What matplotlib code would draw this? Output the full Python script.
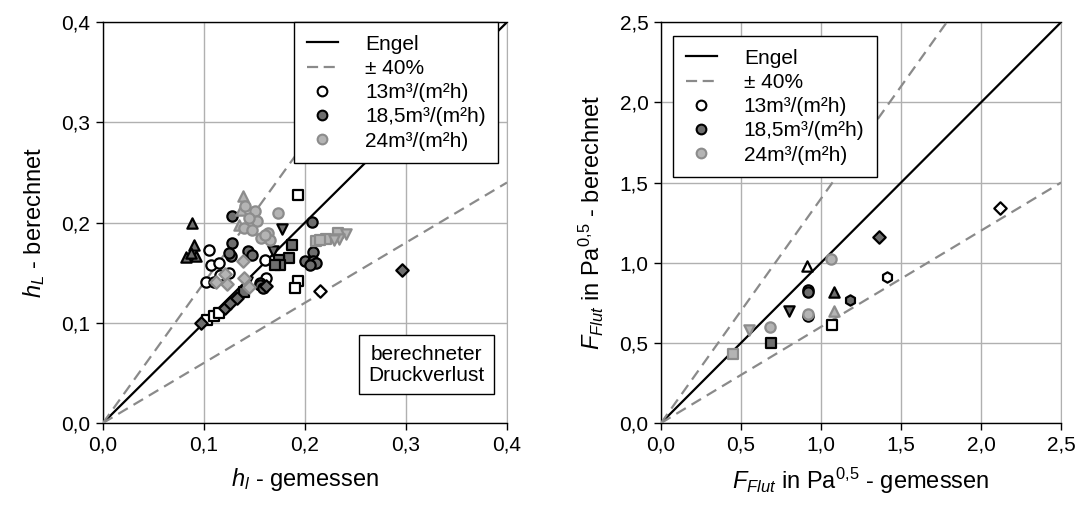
import matplotlib
matplotlib.use("Agg")
import matplotlib.pyplot as plt
from matplotlib.lines import Line2D
from matplotlib.ticker import FuncFormatter
import numpy as np

plt.rcParams["font.family"] = ["Liberation Sans", "DejaVu Sans"]
plt.rcParams["mathtext.fontset"] = "custom"
plt.rcParams["mathtext.rm"] = "Liberation Sans"
plt.rcParams["mathtext.it"] = "Liberation Sans:italic"

# --- linkes Diagramm: h_L gemessen / berechnet -------------------------
# 13 m3/(m2h)
l13_circ_x = [0.105, 0.107, 0.115, 0.102, 0.110, 0.116, 0.160, 0.161, 0.155, 0.158, 0.125]
l13_circ_y = [0.173, 0.158, 0.160, 0.141, 0.141, 0.148, 0.163, 0.145, 0.140, 0.136, 0.150]
l13_sq_x = [0.193, 0.193, 0.190, 0.103, 0.110, 0.115]
l13_sq_y = [0.228, 0.142, 0.135, 0.103, 0.107, 0.110]
l13_dia_x = [0.215]
l13_dia_y = [0.132]
l13_tdn_x = [0.143]
l13_tdn_y = [0.141]
# 18,5 m3/(m2h)
l18_tup_x = [0.0885, 0.090, 0.082, 0.092, 0.087]
l18_tup_y = [0.200, 0.178, 0.166, 0.167, 0.170]
l18_circ_x = [0.128, 0.128, 0.1265, 0.125, 0.1437, 0.148, 0.207, 0.208, 0.200, 0.208, 0.211, 0.205, 0.155, 0.158]
l18_circ_y = [0.207, 0.180, 0.167, 0.170, 0.172, 0.168, 0.201, 0.171, 0.162, 0.162, 0.160, 0.158, 0.138, 0.135]
l18_tdn_x = [0.177, 0.168]
l18_tdn_y = [0.194, 0.172]
l18_sq_x = [0.187, 0.184, 0.174, 0.175, 0.170, 0.140]
l18_sq_y = [0.178, 0.165, 0.163, 0.158, 0.158, 0.131]
l18_dia_x = [0.296, 0.097, 0.121, 0.126, 0.133, 0.161]
l18_dia_y = [0.153, 0.100, 0.115, 0.120, 0.125, 0.137]
# 24 m3/(m2h)
l24_tup_x = [0.139, 0.137, 0.135]
l24_tup_y = [0.227, 0.213, 0.198]
l24_circ_x = [0.141, 0.151, 0.153, 0.173, 0.163, 0.156, 0.165, 0.145, 0.140, 0.148, 0.160]
l24_circ_y = [0.217, 0.212, 0.202, 0.210, 0.190, 0.185, 0.183, 0.205, 0.195, 0.193, 0.188]
l24_sq_x = [0.211, 0.221, 0.2325, 0.215]
l24_sq_y = [0.182, 0.184, 0.190, 0.183]
l24_tdn_x = [0.241, 0.234, 0.229]
l24_tdn_y = [0.189, 0.184, 0.183]
l24_dia_x = [0.139, 0.112, 0.121, 0.123, 0.145, 0.140]
l24_dia_y = [0.162, 0.141, 0.149, 0.139, 0.136, 0.145]

# --- rechtes Diagramm: F_Flut gemessen / berechnet ---------------------
r13_circ_x = [0.92, 0.92]
r13_circ_y = [0.83, 0.67]
r13_tup_x = [0.91]
r13_tup_y = [0.98]
r13_sq_x = [1.07]
r13_sq_y = [0.61]
r13_hex_x = [1.41]
r13_hex_y = [0.91]
r13_dia_x = [2.12]
r13_dia_y = [1.34]
r18_sq_x = [0.69]
r18_sq_y = [0.50]
r18_tdn_x = [0.80]
r18_tdn_y = [0.70]
r18_circ_x = [0.92]
r18_circ_y = [0.82]
r18_tup_x = [1.08]
r18_tup_y = [0.82]
r18_hex_x = [1.18]
r18_hex_y = [0.77]
r18_dia_x = [1.36]
r18_dia_y = [1.16]
r24_sq_x = [0.45]
r24_sq_y = [0.43]
r24_tdn_x = [0.55]
r24_tdn_y = [0.58]
r24_circ_x = [0.68, 0.92, 1.06]
r24_circ_y = [0.60, 0.68, 1.02]
r24_tup_x = [1.08]
r24_tup_y = [0.70]

legend_labels = ["Engel", "± 40%", "13m³/(m²h)", "18,5m³/(m²h)", "24m³/(m²h)"]

STYLE = {
    "13": dict(facecolor="white", edgecolor="black"),
    "18": dict(facecolor="#6e6e6e", edgecolor="black"),
    "24": dict(facecolor="#b4b4b4", edgecolor="#8c8c8c"),
}
GRID = "#b0b0b0"
DASH = "#8a8a8a"
FS = 15


def komma(v, pos):
    return f"{v:.1f}".replace(".", ",")


def setup_axes(ax, lim, step):
    ax.set_xlim(0, lim)
    ax.set_ylim(0, lim)
    ticks = np.arange(0, lim + step / 2, step)
    ax.set_xticks(ticks)
    ax.set_yticks(ticks)
    ax.xaxis.set_major_formatter(FuncFormatter(komma))
    ax.yaxis.set_major_formatter(FuncFormatter(komma))
    ax.grid(True, color=GRID, linewidth=1.0)
    ax.set_axisbelow(True)
    ax.tick_params(direction="out", length=5, width=1, labelsize=FS, pad=4)
    for s in ("left", "bottom", "top"):
        ax.spines[s].set_color("black")
        ax.spines[s].set_linewidth(1.0)
    ax.spines["right"].set_color(GRID)
    # Engel-Linie und +-40 %
    xs = np.array([0, lim])
    ax.plot(xs, xs, color="black", lw=1.6, zorder=3)
    ax.plot(xs, 1.4 * xs, color=DASH, lw=1.6, ls=(0, (5, 3)), zorder=3)
    ax.plot(xs, 0.6 * xs, color=DASH, lw=1.6, ls=(0, (5, 3)), zorder=3)


def punkte(ax, x, y, marker, key, size=55):
    st = STYLE[key]
    ax.scatter(x, y, s=size, marker=marker, facecolor=st["facecolor"],
               edgecolor=st["edgecolor"], linewidths=1.6, zorder=4, clip_on=False)


def legende(ax, anchor):
    handles = [
        Line2D([], [], color="black", lw=1.6),
        Line2D([], [], color=DASH, lw=1.6, ls=(0, (5, 2.5))),
    ]
    for key in ("13", "18", "24"):
        st = STYLE[key]
        handles.append(Line2D([], [], ls="none", marker="o", markersize=7,
                              markerfacecolor=st["facecolor"],
                              markeredgecolor=st["edgecolor"], markeredgewidth=1.5))
    leg = ax.legend(handles, legend_labels, loc="upper left", bbox_to_anchor=anchor,
                    borderaxespad=0, fontsize=FS, frameon=True, fancybox=False,
                    framealpha=1, edgecolor="black", handlelength=1.5,
                    labelspacing=0.25, borderpad=0.6, handletextpad=1.3)
    leg.get_frame().set_linewidth(1.0)
    leg.set_zorder(10)


fig = plt.figure(figsize=(10.78, 5.08), dpi=100)
ax1 = fig.add_axes([0.0955, 0.1673, 0.3748, 0.789])
ax2 = fig.add_axes([0.6132, 0.1673, 0.3711, 0.789])

# linkes Diagramm
setup_axes(ax1, 0.4, 0.1)
punkte(ax1, l13_circ_x, l13_circ_y, "o", "13")
punkte(ax1, l13_sq_x, l13_sq_y, "s", "13", 50)
punkte(ax1, l13_dia_x, l13_dia_y, "D", "13", 40)
punkte(ax1, l13_tdn_x, l13_tdn_y, "v", "13")
punkte(ax1, l18_tup_x, l18_tup_y, "^", "18")
punkte(ax1, l18_circ_x, l18_circ_y, "o", "18")
punkte(ax1, l18_tdn_x, l18_tdn_y, "v", "18")
punkte(ax1, l18_sq_x, l18_sq_y, "s", "18", 50)
punkte(ax1, l18_dia_x, l18_dia_y, "D", "18", 40)
punkte(ax1, l24_tup_x, l24_tup_y, "^", "24")
punkte(ax1, l24_circ_x, l24_circ_y, "o", "24")
punkte(ax1, l24_sq_x, l24_sq_y, "s", "24", 50)
punkte(ax1, l24_tdn_x, l24_tdn_y, "v", "24")
punkte(ax1, l24_dia_x, l24_dia_y, "D", "24", 40)
ax1.set_xlabel("$h_l$ - gemessen", fontsize=17, labelpad=8)
ax1.set_ylabel("$h_L$ - berechnet", fontsize=17, labelpad=10)
legende(ax1, (0.473, 1.0))
ax1.text(0.8, 0.145, "berechneter\nDruckverlust", transform=ax1.transAxes,
         ha="center", va="center", fontsize=FS, zorder=10, linespacing=1.15,
         bbox=dict(boxstyle="square,pad=0.45", facecolor="white",
                   edgecolor="black", linewidth=1.0))

# rechtes Diagramm
setup_axes(ax2, 2.5, 0.5)
punkte(ax2, r13_circ_x, r13_circ_y, "o", "13")
punkte(ax2, r13_tup_x, r13_tup_y, "^", "13")
punkte(ax2, r13_sq_x, r13_sq_y, "s", "13", 50)
punkte(ax2, r13_hex_x, r13_hex_y, "h", "13")
punkte(ax2, r13_dia_x, r13_dia_y, "D", "13", 40)
punkte(ax2, r18_sq_x, r18_sq_y, "s", "18", 50)
punkte(ax2, r18_tdn_x, r18_tdn_y, "v", "18")
punkte(ax2, r18_circ_x, r18_circ_y, "o", "18")
punkte(ax2, r18_tup_x, r18_tup_y, "^", "18")
punkte(ax2, r18_hex_x, r18_hex_y, "h", "18")
punkte(ax2, r18_dia_x, r18_dia_y, "D", "18", 40)
punkte(ax2, r24_sq_x, r24_sq_y, "s", "24", 50)
punkte(ax2, r24_tdn_x, r24_tdn_y, "v", "24")
punkte(ax2, r24_circ_x, r24_circ_y, "o", "24")
punkte(ax2, r24_tup_x, r24_tup_y, "^", "24")
ax2.set_xlabel("$F_{Flut}$ in Pa$^{0{,}5}$ - gemessen", fontsize=17, labelpad=8)
ax2.set_ylabel("$F_{Flut}$ in Pa$^{0{,}5}$ - berechnet", fontsize=17, labelpad=10)
legende(ax2, (0.03, 0.965))

fig.savefig("out.png", dpi=100)
